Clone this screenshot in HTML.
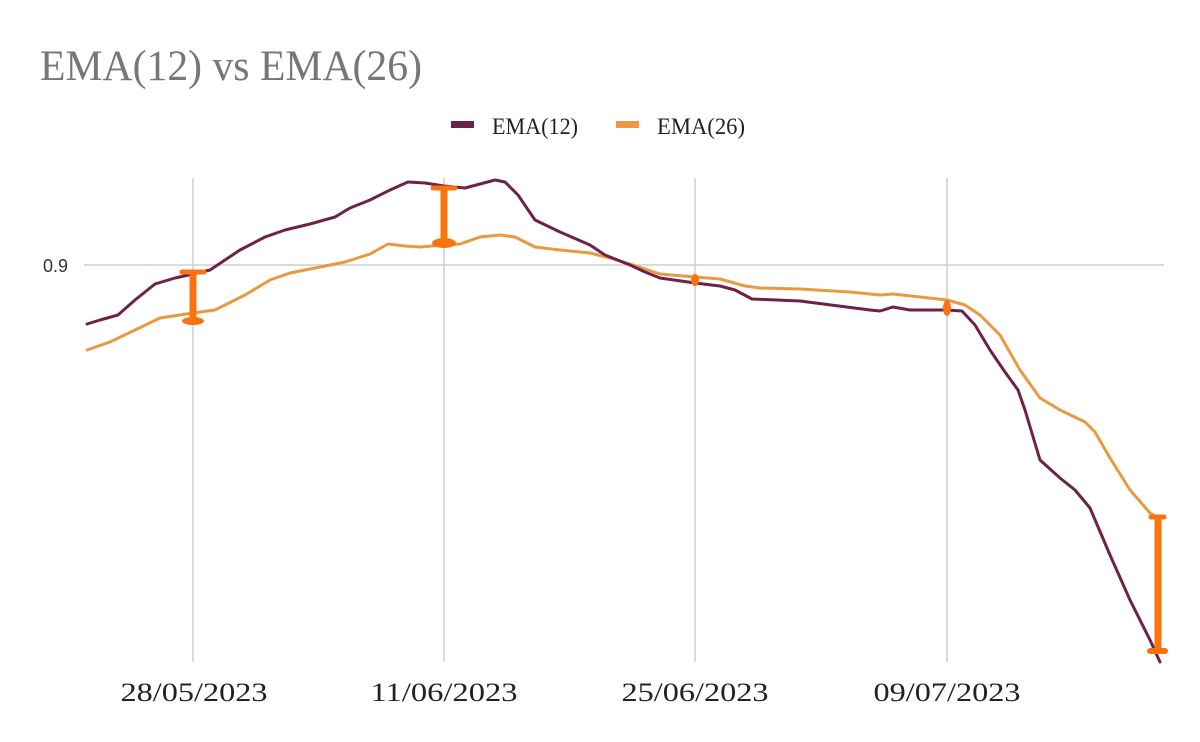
<!DOCTYPE html>
<html><head><meta charset="utf-8"><style>
html,body{margin:0;padding:0;background:#fff;}
body{width:1200px;height:742px;overflow:hidden;position:relative;}
svg{position:absolute;left:0;top:0;}
</style></head><body>
<svg width="1200" height="742" viewBox="0 0 1200 742" xmlns="http://www.w3.org/2000/svg">
<rect width="1200" height="742" fill="#fff"/>
<text x="40" y="80" font-family="Liberation Serif, serif" font-size="43" fill="#777" textLength="382" lengthAdjust="spacingAndGlyphs">EMA(12) vs EMA(26)</text>
<rect x="451" y="121" width="23" height="7" fill="#6e2149"/>
<text x="492" y="134" font-family="Liberation Serif, serif" font-size="23" fill="#222" textLength="86" lengthAdjust="spacingAndGlyphs">EMA(12)</text>
<rect x="616" y="121" width="23" height="7" fill="#e99a40"/>
<text x="657" y="134" font-family="Liberation Serif, serif" font-size="23" fill="#222" textLength="88" lengthAdjust="spacingAndGlyphs">EMA(26)</text>
<g stroke="#cfcfcf" stroke-width="1.5">
<line x1="193" y1="178" x2="193" y2="662"/>
<line x1="444" y1="178" x2="444" y2="662"/>
<line x1="695" y1="178" x2="695" y2="662"/>
<line x1="947" y1="178" x2="947" y2="662"/>
<line x1="84" y1="265" x2="1164" y2="265"/>
</g>
<text x="43" y="272" font-family="Liberation Sans, sans-serif" font-size="18" fill="#333">0.9</text>
<g font-family="Liberation Serif, serif" font-size="26" fill="#222" text-anchor="middle" lengthAdjust="spacingAndGlyphs">
<text x="194" y="701" textLength="147" lengthAdjust="spacingAndGlyphs">28/05/2023</text>
<text x="444" y="701" textLength="147" lengthAdjust="spacingAndGlyphs">11/06/2023</text>
<text x="695" y="701" textLength="147" lengthAdjust="spacingAndGlyphs">25/06/2023</text>
<text x="947" y="701" textLength="147" lengthAdjust="spacingAndGlyphs">09/07/2023</text>
</g>
<polyline fill="none" stroke="#e99a40" stroke-width="3" stroke-linejoin="round" stroke-linecap="round" points="87,350 110,342 135,330 160,318 193,313 215,310 245,295 270,280 290,273 320,267 345,262 370,254 388,244 405,246 420,247 444,245 460,244 480,237 500,235 515,237 535,247 560,250 590,253 610,258 630,264 645,269 660,274 695,277 720,279 745,286 760,288 800,289 850,292 880,295 893,294 920,297 947,300 965,305 980,315 1000,335 1020,370 1040,398 1060,410 1085,422 1095,432 1110,458 1130,490 1150,513 1157,517"/>
<polyline fill="none" stroke="#6e2149" stroke-width="3" stroke-linejoin="round" stroke-linecap="round" points="87,324 100,320 118,315 135,300 155,284 175,278 193,274 210,270 240,250 265,237 285,230 310,224 335,217 350,208 370,200 390,190 408,182 425,183 444,186 465,188 480,184 495,180 505,182 518,195 535,220 560,232 590,245 605,255 630,265 645,272 660,278 695,283 720,286 735,290 752,299 800,301 870,310 880,311 893,307 910,310 947,310 962,311 975,325 990,350 1005,372 1018,390 1025,410 1040,460 1060,478 1075,490 1090,508 1110,555 1130,600 1150,640 1160,662"/>
<g fill="#fb730f" stroke="#fb730f" stroke-linecap="round">
<line x1="193" y1="273" x2="193" y2="320" stroke-width="7"/>
<line x1="182" y1="272" x2="204" y2="272" stroke-width="5"/>
<ellipse cx="193" cy="321" rx="11" ry="4" stroke="none"/>
<line x1="444" y1="189" x2="444" y2="242" stroke-width="7"/>
<line x1="433" y1="188" x2="455" y2="188" stroke-width="5"/>
<ellipse cx="444" cy="243" rx="12" ry="5" stroke="none"/>
<ellipse cx="695" cy="280" rx="4" ry="6" stroke="none"/>
<ellipse cx="947" cy="308" rx="4" ry="8" stroke="none"/>
<line x1="1158" y1="518" x2="1158" y2="650" stroke-width="7"/>
<line x1="1151" y1="517" x2="1164" y2="517" stroke-width="5"/>
<line x1="1150" y1="651" x2="1165" y2="651" stroke-width="6"/>
</g>
</svg>
</body></html>
